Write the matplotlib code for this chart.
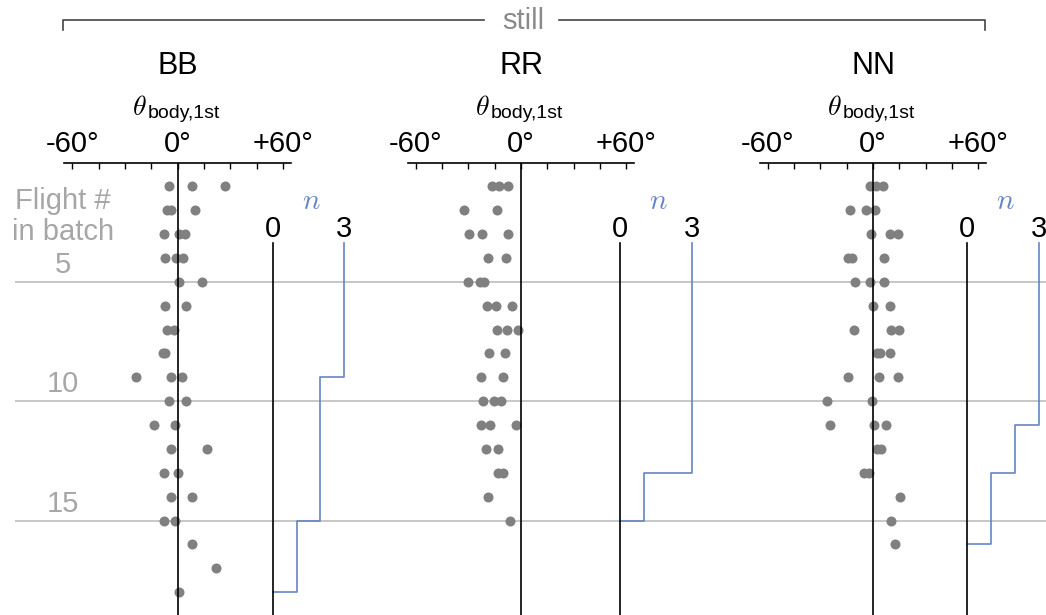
import matplotlib.pyplot as plt
from matplotlib.lines import Line2D

plt.rcParams['font.family'] = ['Liberation Sans', 'DejaVu Sans']

W, H = 1046, 615

panel_names = ['BB', 'RR', 'NN']

# body angle of each fly on its first flight, one list per flight # in batch
bb_theta = [
    [-5, 8, 27],
    [-6, -4, 10],
    [-8, 1, 4],
    [-7, -1, 3],
    [1, 14],
    [-7, 5],
    [-6, -2],
    [-8.5, -7],
    [-24, -4, 2.5],
    [-5, 5],
    [-13.5, -1.5],
    [-4, 16.5],
    [-8, 0],
    [-4, 8],
    [-8, -1.5],
    [8],
    [22],
    [1],
]
rr_theta = [
    [-16.5, -12.5, -7.5],
    [-32.5, -13.5],
    [-29.5, -22, -7.5],
    [-19, -8.5],
    [-30, -23.5, -21],
    [-19.5, -14.5, -5],
    [-13.5, -8, -1.5],
    [-18, -9],
    [-22.5, -10.5],
    [-21.5, -15.5, -11.5],
    [-23, -17.5, -3],
    [-20, -13],
    [-13, -10],
    [-18.5],
    [-6.5],
]
nn_theta = [
    [-1.5, 1.5, 5.5],
    [-13, -4, 1],
    [-1, 9.5, 14],
    [-14, -12, 6.5],
    [-10, -1.5, 6.5],
    [0, 9.5],
    [-11, 10, 15],
    [2, 4, 9.5],
    [-14.5, 3.5, 14],
    [-26, -0.5],
    [-24.5, 0.5, 7.5],
    [2, 4.5],
    [-5, -2],
    [15.5],
    [10.5],
    [12.5],
]

# n per panel: level held until the flight where it drops to the next level
bb_n_drop = [9, 15, 18]
bb_n_level = [3, 2, 1, 0]
rr_n_drop = [13, 15]
rr_n_level = [3, 1, 0]
nn_n_drop = [11, 13, 16]
nn_n_level = [3, 2, 1, 0]

grid_flights = [5, 10, 15]
theta_ticks = [-60, 0, 60]
theta_minor = [-45, -30, -15, 15, 30, 45]
theta_tick_labels = ['-60°', '0°', '+60°']
n_ticks = [0, 3]

thetas = [bb_theta, rr_theta, nn_theta]
n_drops = [bb_n_drop, rr_n_drop, nn_n_drop]
n_levels = [bb_n_level, rr_n_level, nn_n_level]

# layout in pixels (from top-left)
panel_cx = [177.7, 521, 873]
n_x0 = [272.7, 620, 967.3]
n_x3 = [344.3, 692.3, 1039.3]
top_px = 162.5
px_per_flight = 23.87
y_max = (H - top_px) / px_per_flight
half_deg = 64.5
deg_px = 1.757
n_top = 3.37

GRAY_DOT = '#808080'
GRAY_TXT = '#a6a6a6'
BLUE = '#6385c5'


def rect(x0, y0, x1, y1):
    return [x0 / W, 1 - y1 / H, (x1 - x0) / W, (y1 - y0) / H]


def fy(y):
    return 1 - y / H


fig = plt.figure(figsize=(W / 100, H / 100), dpi=100)

# background: flight # gridlines and labels
ax_bg = fig.add_axes(rect(0, top_px, W, H))
ax_bg.set_xlim(0, W)
ax_bg.set_ylim(y_max, 0)
ax_bg.axis('off')
ax_bg.hlines(grid_flights, 15, W, color='#bdbdbd', lw=1.2)
for f in grid_flights:
    ax_bg.annotate(str(f), (63, f), xytext=(0, 6.5), textcoords='offset points',
                   ha='center', va='baseline', color=GRAY_TXT, fontsize=21)
fig.text(63 / W, fy(209.5), 'Flight #', ha='center', va='baseline',
         color=GRAY_TXT, fontsize=21)
fig.text(63 / W, fy(240), 'in batch', ha='center', va='baseline',
         color=GRAY_TXT, fontsize=21)

# "still" bracket across the three panels
fig.add_artist(Line2D([63.3 / W, 63.3 / W, 484 / W], [fy(29.5), fy(20), fy(20)],
                      color='#444444', lw=1.2, transform=fig.transFigure))
fig.add_artist(Line2D([559 / W, 985 / W, 985 / W], [fy(20), fy(20), fy(29.5)],
                      color='#444444', lw=1.2, transform=fig.transFigure))
fig.text(523 / W, fy(29.3), 'still', ha='center', va='baseline',
         color='#8a8a8a', fontsize=21)

for k, name in enumerate(panel_names):
    cx = panel_cx[k]
    half_px = half_deg * deg_px

    fig.text(cx / W, fy(74.5), name, ha='center', va='baseline', fontsize=22)
    fig.text((cx - 31) / W, fy(115), r'$\theta$', ha='right', va='baseline',
             fontsize=20, math_fontfamily='cm')
    fig.text((cx - 30) / W, fy(117.5), 'body,1st', ha='left', va='baseline',
             fontsize=14)

    ax = fig.add_axes(rect(cx - half_px, top_px, cx + half_px, H))
    ax.patch.set_visible(False)
    ax.set_xlim(-half_deg, half_deg)
    ax.set_ylim(y_max, 0)
    for side in ['left', 'right', 'bottom']:
        ax.spines[side].set_visible(False)
    ax.spines['top'].set_linewidth(1.2)
    ax.xaxis.tick_top()
    ax.set_xticks(theta_ticks)
    ax.set_xticklabels(theta_tick_labels)
    ax.set_xticks(theta_minor, minor=True)
    ax.set_yticks([])
    ax.tick_params(axis='x', which='both', direction='in', length=4.5, width=1,
                   labelsize=21, pad=3)
    ax.axvline(0, color='black', lw=1.2, zorder=3)

    for i, row in enumerate(thetas[k]):
        ax.scatter(row, [i + 1] * len(row), s=52, color=GRAY_DOT,
                   linewidths=0, zorder=2)

    nax = fig.add_axes(rect(n_x0[k], top_px, n_x3[k], H))
    nax.patch.set_visible(False)
    nax.set_xlim(0, 3)
    nax.set_ylim(y_max, 0)
    for side in ['top', 'right', 'bottom']:
        nax.spines[side].set_visible(False)
    nax.spines['left'].set_bounds(n_top, y_max)
    nax.spines['left'].set_linewidth(1.2)
    nax.set_xticks([])
    nax.set_yticks([])
    for t in n_ticks:
        nax.text(t, 3.11, str(t), ha='center', va='baseline', fontsize=21,
                 clip_on=False)
    nax.text(1.6, 1.96, r'$n$', ha='center', va='baseline', fontsize=21,
             color=BLUE, math_fontfamily='cm', clip_on=False)

    levels = n_levels[k]
    drops = n_drops[k]
    xs = [levels[0]]
    ys = [n_top]
    for j, d in enumerate(drops):
        xs += [levels[j], levels[j + 1]]
        ys += [d, d]
    nax.plot(xs, ys, color=BLUE, lw=1.2, clip_on=False)

fig.savefig('out.png', dpi=100)
